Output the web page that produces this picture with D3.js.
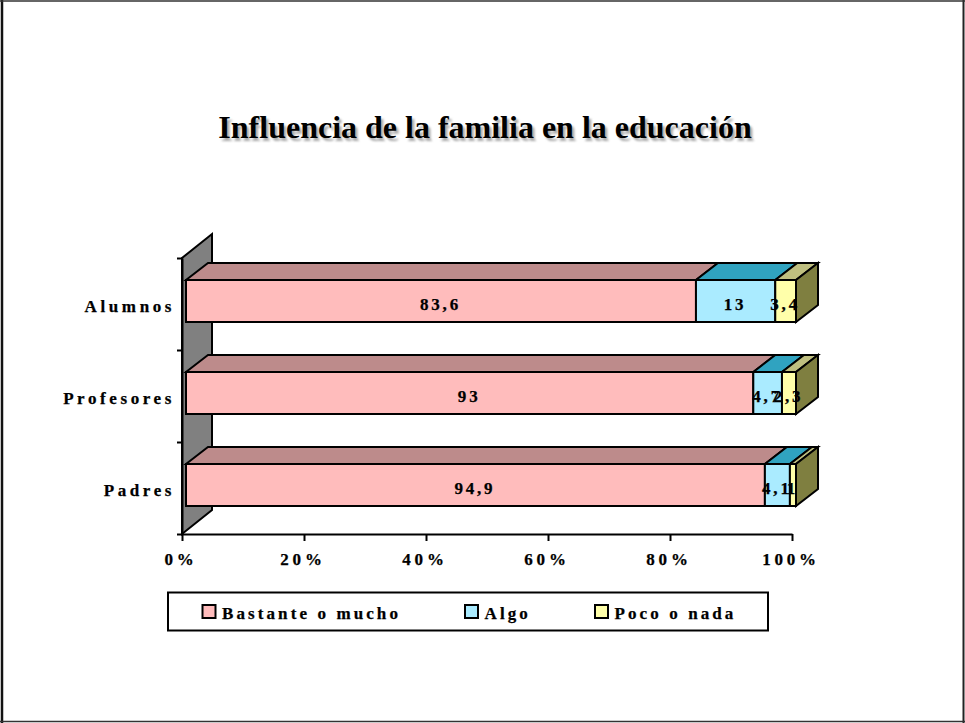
<!DOCTYPE html>
<html><head><meta charset="utf-8">
<script src="https://cdnjs.cloudflare.com/ajax/libs/d3/7.8.5/d3.min.js"></script>
<style>
html,body{margin:0;padding:0;background:#fff}
svg{display:block}
text{font-family:"Liberation Serif",serif;font-weight:bold;fill:#000}
</style></head><body><svg id="c" width="965" height="723"></svg>
<script>
const chartTitle = "Influencia de la familia en la educación";
const categories = ["Padres","Profesores","Alumnos"];
const seriesNames = ["Bastante o mucho","Algo","Poco o nada"];
const bastante = [94.9,93,83.6];
const algo = [4.1,4.7,13];
const poco = [1,2.3,3.4];
const tickValues = [0,20,40,60,80,100];
const frontColors = ["#ffbcbc","#aaebff","#ffffaa"];
const topColors = ["#bd8b8b","#30a3c0","#bfbf80"];
const sideColor = "#7f7f40";
const wallColor = "#808080";

const svg = d3.select("#c");
const W=965,H=723;
svg.append("rect").attr("width",W).attr("height",H).attr("fill","#fff");
[[2,0,2,H,"#111",2.5],[963.5,0,963.5,H,"#222",2],[0,1,W,1,"#333",1.5],[0,721.5,W,721.5,"#333",1.5]].forEach(l=>{
  svg.append("line").attr("x1",l[0]).attr("y1",l[1]).attr("x2",l[2]).attr("y2",l[3]).attr("stroke",l[4]).attr("stroke-width",l[5]);
});

const x = d3.scaleLinear().domain([0,100]).range([182,792]);
const y = d3.scaleBand().domain(categories).range([534,258]);
const dx=30,dy=-24, bdx=22, bdy=-17, barH=42, ox=4, oy=-3;

// title
const tx=485,ty=138;
svg.append("text").attr("x",tx+2.5).attr("y",ty+2.5).attr("text-anchor","middle").attr("font-size",32).style("fill","#aaa").style("filter","blur(0.8px)").text(chartTitle);
svg.append("text").attr("x",tx).attr("y",ty).attr("text-anchor","middle").attr("font-size",32).text(chartTitle);

// wall
const x0=x(0), yB=y.range()[0], yT=y.range()[1];
svg.append("polygon").attr("points",[[x0,yB],[x0,yT],[x0+dx,yT+dy],[x0+dx,yB+dy]].join(" "))
  .attr("fill",wallColor).attr("stroke","#000").attr("stroke-width",2);

// axes
const xAxis = d3.axisBottom(x).tickValues(tickValues).tickSize(7).tickSizeOuter(0).tickPadding(12).tickFormat(d=>d+"%");
const gx = svg.append("g").attr("transform",`translate(0,${yB})`).call(xAxis);
gx.selectAll("path,line").attr("stroke","#000").attr("stroke-width",2);
gx.selectAll("text").attr("font-size",17).attr("font-family","Liberation Serif").attr("dx",-1.5).style("letter-spacing","3.8px").style("stroke","#000").style("stroke-width",0.25);

const yAxis = d3.axisLeft(d3.scaleLinear().domain([0,3]).range([yB,yT])).ticks(3).tickSize(5).tickSizeOuter(0).tickFormat("");
const gy = svg.append("g").attr("transform",`translate(${x0},0)`).call(yAxis);
gy.selectAll("line").attr("stroke","#000").attr("stroke-width",2);
gy.select("path").attr("stroke","#000").attr("stroke-width",2);

categories.forEach(c=>{
  svg.append("text").attr("x",x0-7).attr("y",y(c)+y.bandwidth()/2+oy+11)
    .attr("text-anchor","end").attr("font-size",17).style("letter-spacing","3.6px").style("stroke","#000").style("stroke-width",0.25).text(c);
});

// bars
const rows = categories.map((c,i)=>({c,vals:[bastante[i],algo[i],poco[i]]}));
rows.forEach(r=>{
  const total=d3.sum(r.vals);
  const yc=y(r.c)+y.bandwidth()/2+oy, t=yc-barH/2, b=yc+barH/2;
  let acc=0;
  const g=svg.append("g").attr("transform",`translate(${ox},0)`).attr("stroke","#000").attr("stroke-width",2).attr("stroke-linejoin","miter");
  const segs=r.vals.map((v,i)=>{const s={i,v,a:x(acc/total*100),e:x((acc+v)/total*100)};acc+=v;return s;});
  segs.forEach(s=>{
    g.append("polygon").attr("points",[[s.a,t],[s.a+bdx,t+bdy],[s.e+bdx,t+bdy],[s.e,t]].join(" ")).attr("fill",topColors[s.i]);
  });
  const last=segs[segs.length-1];
  g.append("polygon").attr("points",[[last.e,t],[last.e+bdx,t+bdy],[last.e+bdx,b+bdy],[last.e,b]].join(" ")).attr("fill",sideColor);
  segs.forEach(s=>{
    g.append("rect").attr("x",s.a).attr("y",t).attr("width",s.e-s.a).attr("height",barH).attr("fill",frontColors[s.i]);
  });
  segs.forEach(s=>{
    svg.append("text").attr("x",ox+(s.a+s.e)/2-0.5).attr("y",yc+8.5).attr("text-anchor","middle").attr("font-size",17).style("letter-spacing","2.8px").style("stroke","#000").style("stroke-width",0.25)
      .text(String(s.v).replace(".",","));
  });
});

// legend
svg.append("rect").attr("x",168).attr("y",592.5).attr("width",600).attr("height",38).attr("fill","#fff").attr("stroke","#000").attr("stroke-width",2);
const lx=[202.5,465,595];
seriesNames.forEach((n,i)=>{
  svg.append("rect").attr("x",lx[i]).attr("y",605).attr("width",13).attr("height",13).attr("fill",frontColors[i]).attr("stroke","#000").attr("stroke-width",2);
  svg.append("text").attr("x",lx[i]+19.5).attr("y",619).attr("font-size",17).style("letter-spacing","3.1px").style("stroke","#000").style("stroke-width",0.25).text(n);
});
</script></body></html>
